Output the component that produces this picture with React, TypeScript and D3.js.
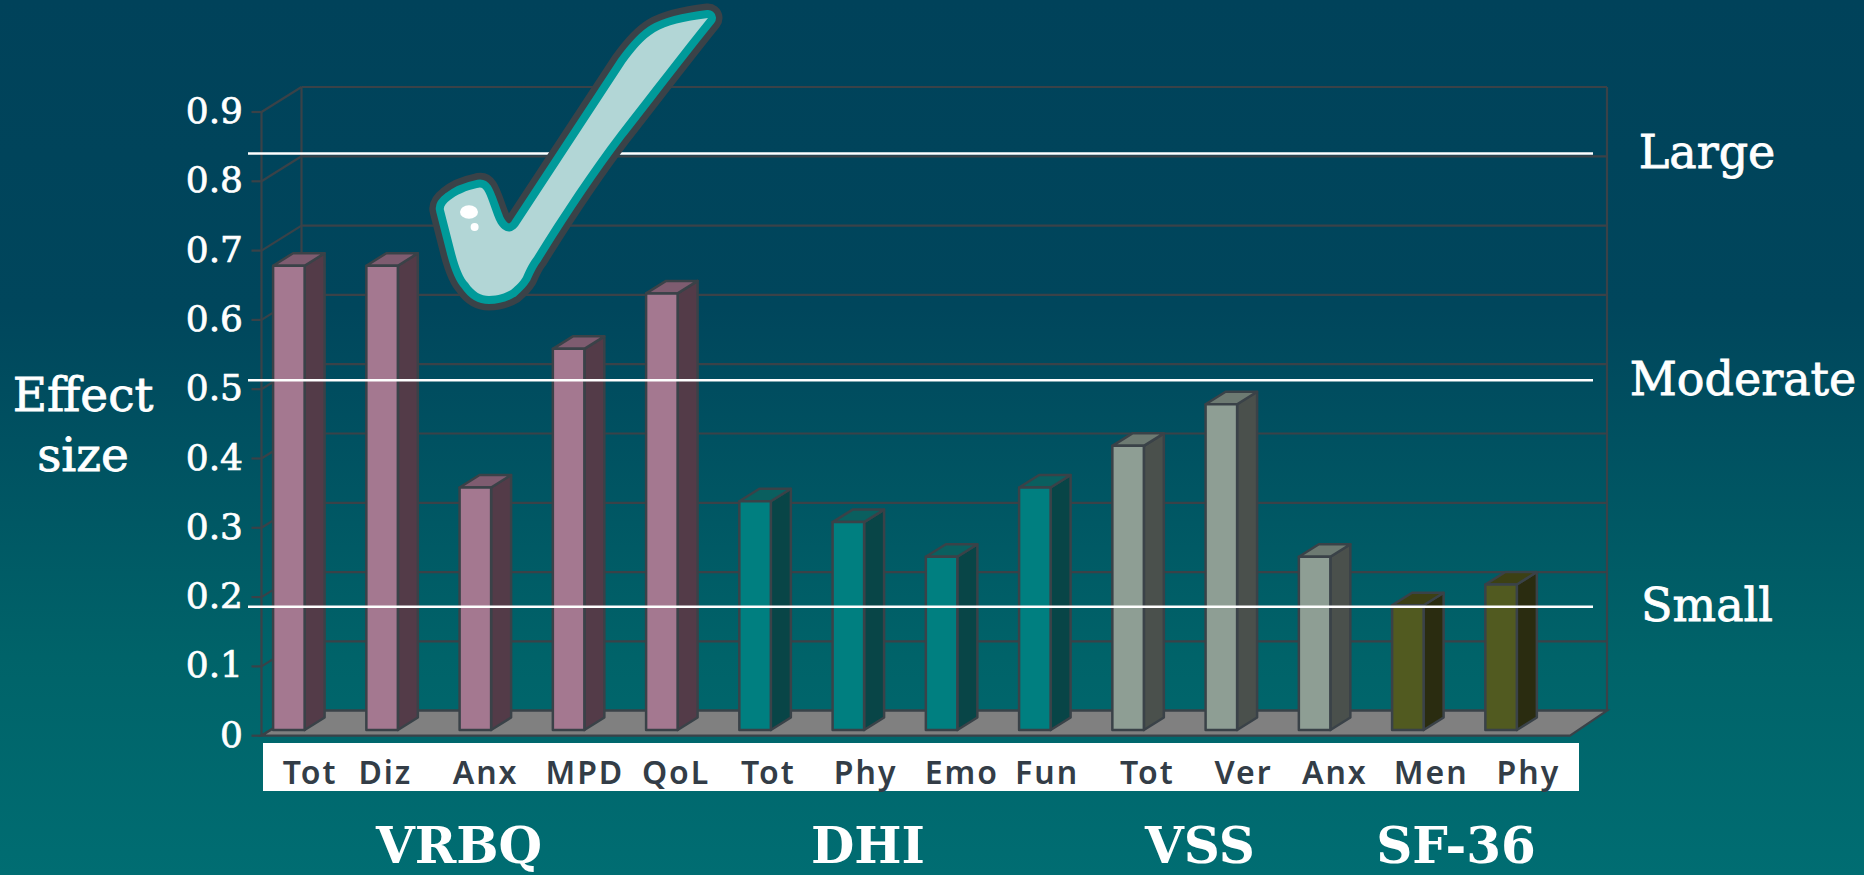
import * as d3 from "d3";

// values
const vrbqLabels = ["Tot", "Diz", "Anx", "MPD", "QoL"];
const vrbqValues = [0.67, 0.67, 0.35, 0.55, 0.63];
const dhiLabels = ["Tot", "Phy", "Emo", "Fun"];
const dhiValues = [0.33, 0.3, 0.25, 0.35];
const vssLabels = ["Tot", "Ver", "Anx"];
const vssValues = [0.41, 0.47, 0.25];
const sfLabels = ["Men", "Phy"];
const sfValues = [0.18, 0.21];
const yTicks = [0, 0.1, 0.2, 0.3, 0.4, 0.5, 0.6, 0.7, 0.8, 0.9];
const thresholds = [0.84, 0.513, 0.186];
const thresholdNames = ["Large", "Moderate", "Small"];

const WIDTH = 1864;
const HEIGHT = 875;

// 3D look of the old slide chart
const wallDx = 40;
const wallDy = -25;
const barInset = 0.29; // how far into the floor the bars stand
const barDepth = 0.5;
const edge = "#3a4248";

const palettes = [
  { front: "#a47890", side: "#533b48", top: "#7e5c70" },
  { front: "#007f80", side: "#084547", top: "#0a5f5f" },
  { front: "#8e9e94", side: "#4a504c", top: "#6d7a72" },
  { front: "#515a20", side: "#2a2c10", top: "#3c4014" },
];

const groups = [
  { name: "VRBQ", labels: vrbqLabels, values: vrbqValues, nameX: 459 },
  { name: "DHI", labels: dhiLabels, values: dhiValues, nameX: 868 },
  { name: "VSS", labels: vssLabels, values: vssValues, nameX: 1200 },
  { name: "SF-36", labels: sfLabels, values: sfValues, nameX: 1456 },
];

const bars = groups.flatMap((g, gi) =>
  g.labels.map((label, i) => ({ id: `${g.name}-${label}`, label, value: g.values[i], palette: palettes[gi] }))
);

// the category labels were placed by hand on the slide, they do not sit on the band centres
const labelNudge = [2, -16, -9, -3, -5, -6, -2, 1, -7, 0, 3, 1, 4, 8];

const checkPath =
  "M708 18 C683 21 667 25 655 32 C643 39 633 52 625 63 L518 226 C513 232 509 232 506 231 C501 229 498 224 496 220 C491 208 488 196 484 190 C482 187 480 187 477 188 C467 190 456 195 450 200 C446 203 443 207 444 210 L455 253 C459 268 463 278 468 283 C474 292 481 296 489 296 C499 296 506 293 511 290 C517 285 520 282 523 277 C527 268 530 262 534 257 C560 215 590 170 618 133 C650 92 682 50 708 18 Z";

const serif = "'DejaVu Serif', serif";

export default function App() {
  const x = d3.scaleBand<string>().domain(bars.map((b) => b.id)).range([261.5, 1567]);
  const y = d3.scaleLinear().domain([0, 0.9]).range([735.7, 112]);

  const floorY = y(0);
  const left = x.range()[0];
  const right = x.range()[1];
  const step = x.step();
  const bw = 31.5;

  const polyPts = (pts: [number, number][]) => pts.map((p) => p.join(",")).join(" ");

  return (
    <svg
      width={WIDTH}
      height={HEIGHT}
      viewBox={`0 0 ${WIDTH} ${HEIGHT}`}
      style={{ position: "absolute", left: 0, top: 0, display: "block" }}
    >
      <defs>
        <linearGradient id="bg" x1="0" y1="0" x2="0" y2="1">
          <stop offset="0" stopColor="#00425a" />
          <stop offset="0.35" stopColor="#00465c" />
          <stop offset="0.75" stopColor="#006369" />
          <stop offset="1" stopColor="#006d72" />
        </linearGradient>
      </defs>
      <rect width={WIDTH} height={HEIGHT} fill="url(#bg)" />

      {/* back wall and left wall */}
      <g stroke={edge} strokeWidth={2.2} fill="none">
        {yTicks.map((t) => (
          <g key={t}>
            <line x1={left + wallDx} x2={right + wallDx} y1={y(t) + wallDy} y2={y(t) + wallDy} />
            <line x1={left} x2={left + wallDx} y1={y(t)} y2={y(t) + wallDy} />
            <line x1={left - 10} x2={left} y1={y(t)} y2={y(t)} />
          </g>
        ))}
        <line x1={left} x2={left} y1={y(0.9)} y2={floorY} />
        <line x1={left + wallDx} x2={left + wallDx} y1={y(0.9) + wallDy} y2={floorY + wallDy} />
        <line x1={right + wallDx} x2={right + wallDx} y1={y(0.9) + wallDy} y2={floorY + wallDy} />
      </g>

      {/* floor */}
      <polygon
        points={polyPts([
          [left, floorY],
          [right + 3, floorY],
          [right + wallDx, floorY + wallDy],
          [left + wallDx, floorY + wallDy],
        ])}
        fill="#808080"
        stroke={edge}
        strokeWidth={2.2}
      />

      {/* bars */}
      {bars.map((b) => {
        const x0 = (x(b.id) as number) + wallDx * barInset;
        const bottom = floorY - 5.7;
        const top = y(b.value) - 5.7;
        const dx = wallDx * barDepth;
        const dy = wallDy * barDepth;
        return (
          <g key={b.id} stroke={edge} strokeWidth={2.5} strokeLinejoin="round">
            <polygon
              points={polyPts([
                [x0 + bw, top],
                [x0 + bw + dx, top + dy],
                [x0 + bw + dx, bottom + dy],
                [x0 + bw, bottom],
              ])}
              fill={b.palette.side}
            />
            <polygon
              points={polyPts([
                [x0, top],
                [x0 + dx, top + dy],
                [x0 + bw + dx, top + dy],
                [x0 + bw, top],
              ])}
              fill={b.palette.top}
            />
            <rect x={x0} y={top} width={bw} height={bottom - top} fill={b.palette.front} />
          </g>
        );
      })}

      {/* effect size thresholds */}
      {thresholds.map((t) => (
        <line key={t} x1={248} x2={1593} y1={y(t)} y2={y(t)} stroke="#fff" strokeWidth={2.5} />
      ))}

      {/* check mark */}
      <path d={checkPath} fill="none" stroke={edge} strokeWidth={29} strokeLinejoin="round" />
      <path d={checkPath} fill="none" stroke="#009a9a" strokeWidth={16} strokeLinejoin="round" />
      <path d={checkPath} fill="#b2d6d6" />
      <ellipse cx={469} cy={212} rx={9} ry={6.7} fill="#fff" />
      <circle cx={474.6} cy={227} r={4} fill="#fff" />

      {/* y axis */}
      <g fontFamily={serif} fontSize={36} fill="#fff" stroke="#fff" strokeWidth={0.7} textAnchor="end">
        {yTicks.map((t) => (
          <text key={t} x={243} y={y(t) + 11}>
            {t === 0 ? "0" : t.toFixed(1)}
          </text>
        ))}
      </g>
      <g fontFamily={serif} fontSize={47} fill="#fff" stroke="#fff" strokeWidth={0.8} textAnchor="middle">
        <text x={83} y={411}>Effect</text>
        <text x={83} y={471}>size</text>
      </g>

      {/* category strip */}
      <rect x={263} y={743} width={1316} height={48} fill="#fff" />
      <g fontFamily="'Noto Sans', sans-serif" fontWeight={600} fontSize={32} letterSpacing={2} fill="#333d47" textAnchor="middle">
        {bars.map((b, i) => (
          <text key={b.id} x={(x(b.id) as number) + step / 2 + labelNudge[i]} y={784}>
            {b.label}
          </text>
        ))}
      </g>

      {/* group names */}
      <g fontFamily={serif} fontWeight={700} fontSize={50} fill="#fff" textAnchor="middle">
        {groups.map((g) => (
          <text key={g.name} x={g.nameX} y={863}>
            {g.name}
          </text>
        ))}
      </g>

      {/* threshold names */}
      <g fontFamily={serif} fontSize={46} fill="#fff" stroke="#fff" strokeWidth={0.8} textAnchor="middle">
        <text x={1707} y={168}>{thresholdNames[0]}</text>
        <text x={1743} y={395}>{thresholdNames[1]}</text>
        <text x={1707} y={621}>{thresholdNames[2]}</text>
      </g>
    </svg>
  );
}
